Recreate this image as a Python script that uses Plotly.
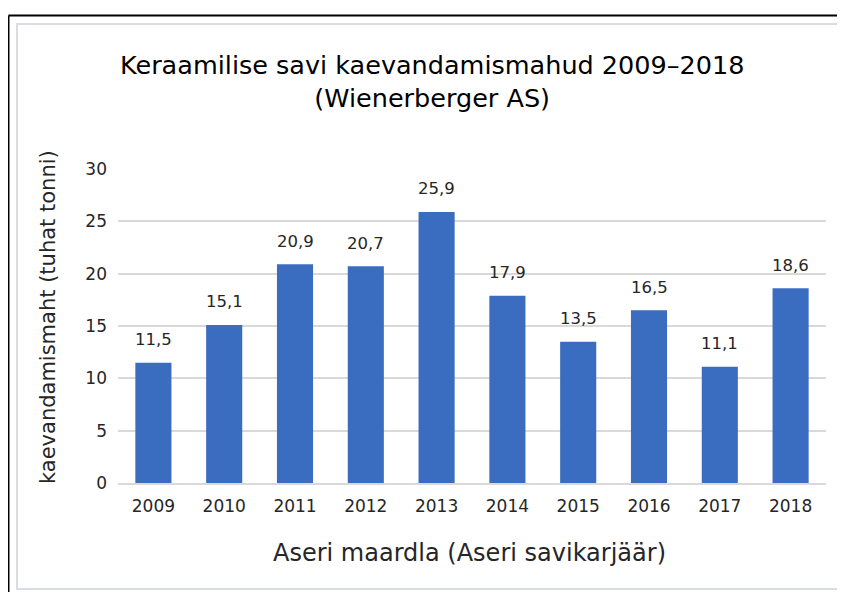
import plotly.graph_objects as go

years = ["2009", "2010", "2011", "2012", "2013", "2014", "2015", "2016", "2017", "2018"]
values = [11.5, 15.1, 20.9, 20.7, 25.9, 17.9, 13.5, 16.5, 11.1, 18.6]
labels = [f"{v:.1f}".replace(".", ",") for v in values]

OFF = 8  # page body margin offset
W, H = 845 - OFF, 592 - OFF
# plot area in reference (screen) pixels
X0, X1, Y0, Y1 = 118, 826, 169, 483
L, R, T, B = X0 - OFF, W - (X1 - OFF), Y0 - OFF, H - (Y1 - OFF)
pw, ph = W - L - R, H - T - B

def px(x):
    return (x - OFF - L) / pw

def py(y):
    return (H - B - (y - OFF)) / ph

FONT = "DejaVu Sans"
TXT = "#262626"

fig = go.Figure(go.Bar(
    x=years, y=values,
    marker=dict(color="#3a6cc0", line=dict(width=0)),
    hoverinfo="skip",
))

annotations = [
    dict(x=i, y=v, text=t, xref="x", yref="y", showarrow=False,
         yanchor="middle", yshift=23, font=dict(family=FONT, size=16.5, color=TXT))
    for i, (v, t) in enumerate(zip(values, labels))
]
annotations += [
    dict(text="Keraamilise savi kaevandamismahud 2009–2018<br>(Wienerberger AS)",
         x=px(432), y=py(82), xref="paper", yref="paper", showarrow=False,
         font=dict(family=FONT, size=25.5, color="#000000"), align="center",
         xanchor="center", yanchor="middle"),
    dict(text="kaevandamismaht (tuhat tonni)", textangle=-90,
         x=px(48), y=py(317), xref="paper", yref="paper", showarrow=False,
         font=dict(family=FONT, size=21, color=TXT), xanchor="center", yanchor="middle"),
    dict(text="Aseri maardla (Aseri savikarjäär)",
         x=px(469), y=py(553), xref="paper", yref="paper", showarrow=False,
         font=dict(family=FONT, size=24, color=TXT), xanchor="center", yanchor="middle"),
]

fig.update_layout(
    width=W, height=H,
    margin=dict(l=L, r=R, t=T, b=B),
    paper_bgcolor="white", plot_bgcolor="white",
    bargap=0.49,
    showlegend=False,
    font=dict(family=FONT, color=TXT),
    xaxis=dict(type="category", range=[-0.5, len(years) - 0.5], showgrid=False,
               showline=True, linecolor="#d9d9d9", linewidth=1.5,
               ticks="", tickfont=dict(family=FONT, size=17, color=TXT), ticklabelstandoff=7),
    yaxis=dict(range=[0, 30], dtick=5, showgrid=True, gridcolor="#d9d9d9", gridwidth=1.5,
               zeroline=False, showline=False, ticks="",
               tickfont=dict(family=FONT, size=17, color=TXT), ticklabelstandoff=10),
    annotations=annotations,
    shapes=[
        dict(type="rect", xref="paper", yref="paper",
             x0=px(17), x1=px(843), y0=py(589), y1=py(24),
             line=dict(color="#d9dde3", width=2), layer="below"),
        dict(type="line", xref="paper", yref="paper",
             x0=px(8.5), x1=px(8.5), y0=py(15.5), y1=py(610),
             line=dict(color="black", width=2)),
        dict(type="line", xref="paper", yref="paper",
             x0=px(8.5), x1=px(860), y0=py(15.5), y1=py(15.5),
             line=dict(color="black", width=2)),
    ],
)

fig.write_html("out.html")
